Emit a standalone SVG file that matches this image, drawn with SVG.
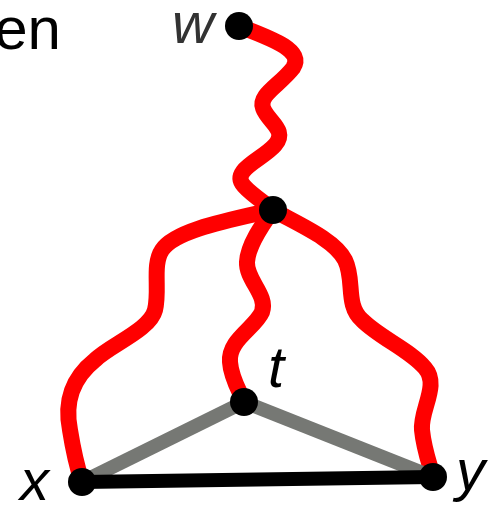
<svg xmlns="http://www.w3.org/2000/svg" width="500" height="505" viewBox="0 0 500 505">
<style>
.lbl{font-family:"Liberation Sans",Arial,sans-serif;font-style:italic;font-size:58px;fill:#000}
.red{fill:none;stroke:#ff0000;stroke-width:16;stroke-linecap:round}
.gray{fill:none;stroke:#767874;stroke-width:14}
.blk{fill:none;stroke:#000;stroke-width:14}
.node{fill:#000}
</style>
<rect width="500" height="505" fill="#fff"/>
<text x="61" y="49" text-anchor="end" style="font-family:'Liberation Sans',Arial,sans-serif;font-size:60px;fill:#000">en</text>
<g id="connectors">
<path class="red" d="M239,26 C270,38 305,50 293,68 C280,85 258,95 263,108 C268,122 288,130 275,145 C262,160 230,170 244,186 C252,195 265,203 273,210"/>
<path class="red" d="M273,210 C230,220 175,230 162,250 C152,265 160,290 155,310 C150,330 110,345 95,360 C70,380 65,405 70,430 C74,455 78,470 82,482"/>
<path class="red" d="M273,210 C262,225 248,245 247,262 C246,280 268,295 262,312 C255,328 228,340 230,362 C231,378 240,392 244,402"/>
<path class="red" d="M273,210 C300,225 335,240 345,260 C355,280 345,305 362,320 C380,338 410,350 425,368 C440,385 420,410 422,430 C424,450 430,465 433,477"/>
<line class="gray" x1="82" y1="482" x2="244" y2="402"/>
<line class="gray" x1="244" y1="402" x2="433" y2="477"/>
<line class="blk" x1="82" y1="482" x2="433" y2="477"/>
</g>
<g id="w"><circle class="node" cx="239" cy="26" r="14"/><text class="lbl" x="172" y="43" style="fill:#333">w</text></g>
<g id="m"><circle class="node" cx="273" cy="210" r="14"/></g>
<g id="t"><circle class="node" cx="244" cy="402" r="14"/><text class="lbl" x="268" y="387">t</text></g>
<g id="x"><circle class="node" cx="82" cy="482" r="14"/><text class="lbl" x="20" y="500">x</text></g>
<g id="y"><circle class="node" cx="433" cy="477" r="14"/><text class="lbl" x="456" y="490">y</text></g>
</svg>
